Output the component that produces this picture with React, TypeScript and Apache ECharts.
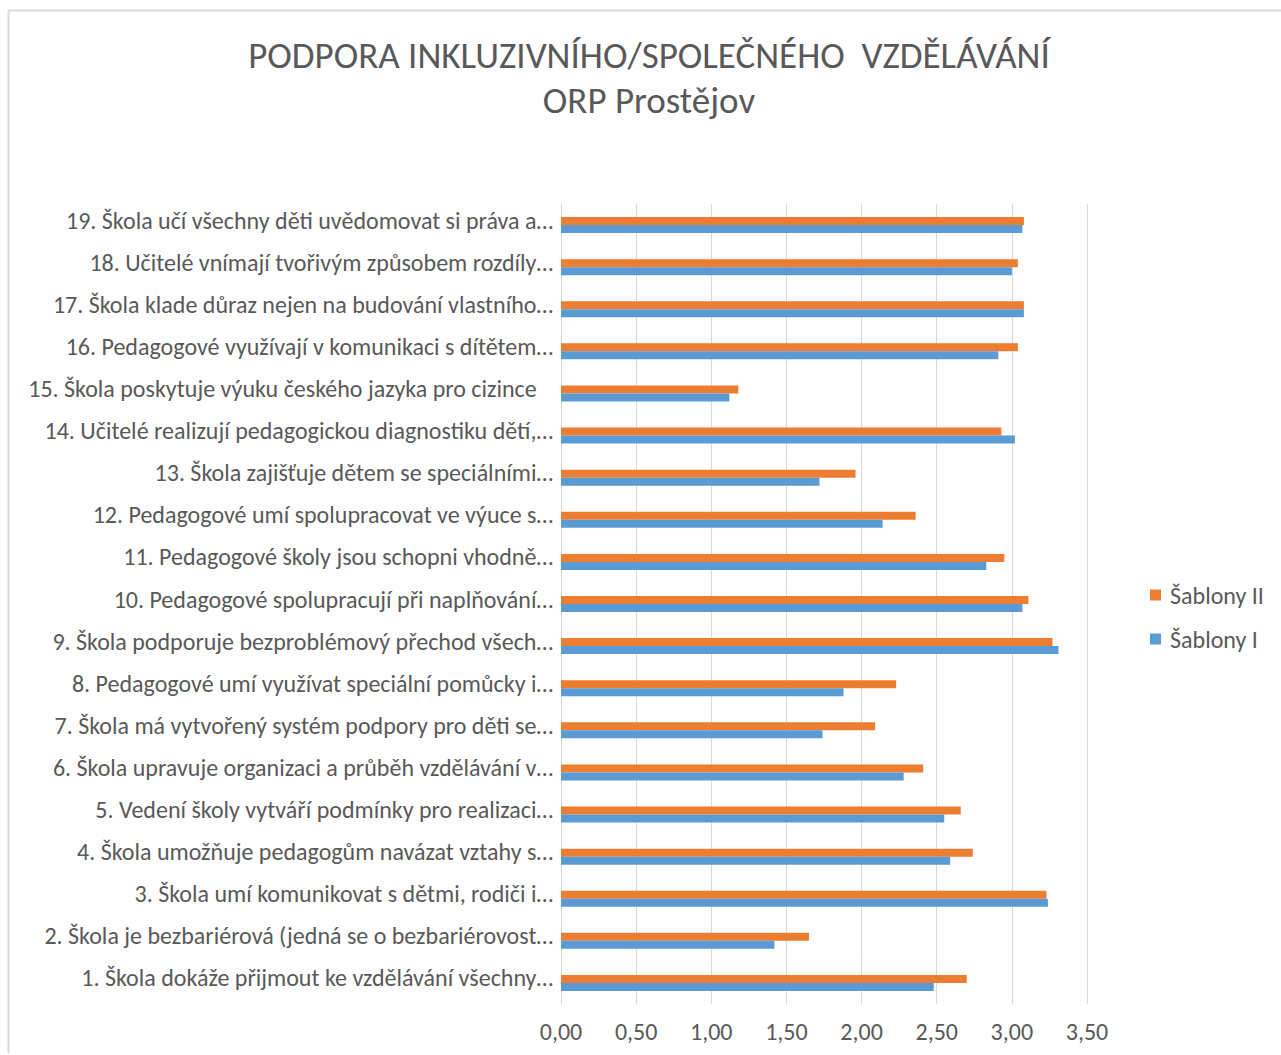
import React, { useEffect, useRef } from "react";
import * as echarts from "echarts";

const categories = [
  "1. Škola dokáže přijmout ke vzdělávání všechny…",
  "2. Škola je bezbariérová (jedná se o bezbariérovost…",
  "3. Škola umí komunikovat s dětmi, rodiči i…",
  "4. Škola umožňuje pedagogům navázat vztahy s…",
  "5. Vedení školy vytváří podmínky pro realizaci…",
  "6. Škola upravuje organizaci a průběh vzdělávání v…",
  "7. Škola má vytvořený systém podpory pro děti se…",
  "8. Pedagogové umí využívat speciální pomůcky i…",
  "9. Škola podporuje bezproblémový přechod všech…",
  "10. Pedagogové spolupracují při naplňování…",
  "11. Pedagogové školy jsou schopni vhodně…",
  "12. Pedagogové umí spolupracovat ve výuce s…",
  "13. Škola zajišťuje dětem se speciálními…",
  "14. Učitelé realizují pedagogickou diagnostiku dětí,…",
  "15. Škola poskytuje výuku českého jazyka pro cizince\u00A0\u00A0\u00A0",
  "16. Pedagogové využívají v komunikaci s dítětem…",
  "17. Škola klade důraz nejen na budování vlastního…",
  "18. Učitelé vnímají tvořivým způsobem rozdíly…",
  "19. Škola učí všechny děti uvědomovat si práva a…",
];

const sablonyI = [2.48, 1.42, 3.24, 2.59, 2.55, 2.28, 1.74, 1.88, 3.31, 3.07, 2.83, 2.14, 1.72, 3.02, 1.12, 2.91, 3.08, 3.0, 3.07];
const sablonyII = [2.7, 1.65, 3.23, 2.74, 2.66, 2.41, 2.09, 2.23, 3.27, 3.11, 2.95, 2.36, 1.96, 2.93, 1.18, 3.04, 3.08, 3.04, 3.08];

const legendOrder = ["Šablony II", "Šablony I"];
const titleLines = ["PODPORA INKLUZIVNÍHO/SPOLEČNÉHO  VZDĚLÁVÁNÍ", "ORP Prostějov"];

const FONT = "Calibri, Carlito, 'Open Sans', 'Noto Sans', sans-serif";
const TEXT = "#595959";

export default function App() {
  const ref = useRef<HTMLDivElement>(null);
  useEffect(() => {
    document.body.style.margin = "0";
    const chart = echarts.init(ref.current!, null, { renderer: "svg" });
    chart.setOption({
      animation: false,
      backgroundColor: "#ffffff",
      textStyle: { fontFamily: FONT, color: TEXT },
      title: {
        text: titleLines.join("\n"),
        left: 644,
        top: 28,
        textAlign: "center",
        textStyle: { fontFamily: FONT, fontSize: 37, fontWeight: "normal", color: TEXT, lineHeight: 45 },
      },
      legend: {
        data: legendOrder,
        orient: "vertical",
        left: 1145,
        top: 578,
        itemWidth: 11,
        itemHeight: 11,
        itemGap: 20,
        icon: "rect",
        textStyle: { fontFamily: FONT, fontSize: 24, color: TEXT, padding: [0, 0, 0, 4] },
      },
      grid: { left: 561, right: 194, top: 204, bottom: 51, containLabel: false },
      xAxis: {
        type: "value",
        min: 0,
        max: 3.5,
        interval: 0.5,
        axisLine: { show: false },
        axisTick: { show: false },
        splitLine: { lineStyle: { color: "#D9D9D9", width: 1 } },
        axisLabel: {
          fontFamily: FONT,
          fontSize: 24,
          color: TEXT,
          margin: 15,
          formatter: (v: number) => v.toFixed(2).replace(".", ","),
        },
      },
      yAxis: {
        type: "category",
        data: categories,
        axisLine: { show: true, lineStyle: { color: "#D9D9D9" } },
        axisTick: { show: false },
        axisLabel: {
          margin: 8,
          formatter: (v: string) => "{a|" + v + "}",
          rich: {
            a: { fontFamily: FONT, fontSize: 24, color: TEXT, lineHeight: 24, padding: [0, 0, 10, 0] },
          },
        },
      },
      series: [
        {
          name: "Šablony II",
          type: "bar",
          data: sablonyII,
          barWidth: 8,
          barGap: "0%",
          itemStyle: { color: "#ED7D31" },
        },
        {
          name: "Šablony I",
          type: "bar",
          data: sablonyI,
          barWidth: 8,
          barGap: "0%",
          itemStyle: { color: "#5B9BD5" },
        },
      ],
      graphic: [
        { type: "line", shape: { x1: 8.5, y1: 10.5, x2: 1281, y2: 10.5 }, style: { stroke: "#D9D9D9", lineWidth: 2 } },
        { type: "line", shape: { x1: 8.5, y1: 10.5, x2: 8.5, y2: 1053 }, style: { stroke: "#D9D9D9", lineWidth: 2 } },
      ],
    });
    return () => chart.dispose();
  }, []);
  return <div ref={ref} style={{ width: 1281, height: 1055 }} />;
}
